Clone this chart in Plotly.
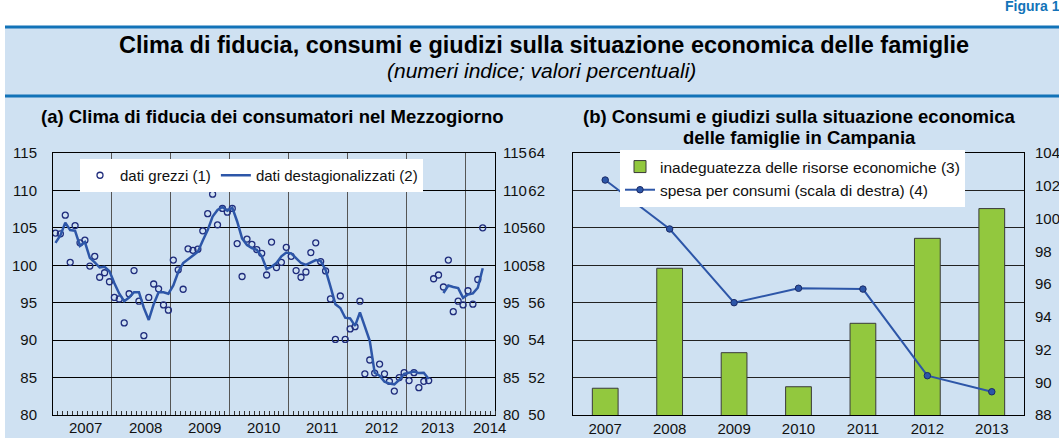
import plotly.graph_objects as go

W, H = 1059, 438

# ---------------- Data: panel (a) monthly, Jan 2007 = month 0 ----------------
raw_old = [104.3, 104.2, 106.7, 100.4, 105.3, 103.0, 103.35, 99.9, 101.2, 98.4, 99.0, 97.8,
           95.7, 95.5, 92.3, 96.2, 99.3, 95.2, 90.6, 95.7, 97.5, 96.85, 94.7, 94.0,
           100.7, 99.4, 96.8, 102.2, 102.0, 102.15, 104.6, 106.9, 109.5, 105.4, 107.6, 107.1,
           107.6, 102.9, 98.5, 103.5, 102.8, 102.1, 101.6, 98.7, 103.1, 99.7, 100.4, 102.4,
           101.2, 99.3, 98.4, 99.1, 101.7, 103.0, 100.5, 99.25, 95.5, 90.1, 95.9, 90.1,
           91.5, 91.8, 95.2, 85.5, 87.35, 85.6, 86.8, 85.5, 84.5, 83.2, 85.0, 85.65,
           84.6, 85.65, 83.65, 84.5, 84.6]
raw_new = [98.2, 98.7, 97.1, 100.7, 93.8, 95.2, 94.7, 96.6, 94.8, 98.1, 105.0]
raw_new_start = 77

sa_old = [103.0, 104.0, 105.7, 104.7, 104.6, 102.6, 103.1, 101.0, 100.4, 99.7, 99.8, 99.2,
          97.6, 96.2, 95.2, 95.7, 96.4, 96.4, 94.3, 92.7, 94.8, 96.4, 96.4, 96.2,
          97.3, 99.1, 100.3, 100.8, 101.3, 101.8, 103.3, 104.7, 106.5, 107.4, 107.8, 107.3,
          107.7, 105.85, 103.6, 102.7, 102.3, 102.06, 101.2, 99.5, 99.8, 100.3, 101.2, 101.7,
          101.6, 100.95, 100.3, 100.05, 100.4, 100.7, 100.6, 99.4, 97.15, 94.8, 94.3, 93.0,
          92.9, 91.9, 93.7, 91.8, 89.9, 85.65, 85.25, 84.45, 84.2, 84.1, 84.7, 85.5,
          85.6, 85.8, 85.6, 85.65, 84.8]
sa_new = [96.3, 97.3, 97.1, 96.95, 95.65, 96.1, 96.25, 97.0, 99.6]
sa_new_start = 79

n_months = 90  # Jan 2007 - Jun 2014
year_labels = ["2007", "2008", "2009", "2010", "2011", "2012", "2013", "2014"]
year_label_pos = [6.2, 18.3, 30.4, 42.4, 54.3, 66.3, 77.7, 88.3]

# ---------------- Data: panel (b) annual ----------------
years_b = ["2007", "2008", "2009", "2010", "2011", "2012", "2013"]
inadeguatezza = [51.43, 57.84, 53.33, 51.51, 54.9, 59.44, 61.03]
spesa = [102.35, 99.36, 94.86, 95.74, 95.69, 90.4, 89.42]

FONT = "Liberation Sans, Arial, sans-serif"
BG = "#cfe1f2"
BLUE_RULE = "#1273b8"
LINE_BLUE = "#2d56a8"
NAVY = "#1f2c7c"
GREEN = "#92c83e"


def px_x(p):
    return p / W


def px_y(p):
    return 1 - p / H


fig = go.Figure()

# panel (a)
fig.add_trace(go.Scatter(
    x=list(range(len(raw_old))), y=raw_old, mode="markers", name="dati grezzi (1)",
    marker=dict(symbol="circle-open", size=6, color=NAVY, line=dict(width=1.3, color=NAVY)),
    xaxis="x", yaxis="y", legend="legend"))
fig.add_trace(go.Scatter(
    x=list(range(raw_new_start, raw_new_start + len(raw_new))), y=raw_new, mode="markers",
    showlegend=False,
    marker=dict(symbol="circle-open", size=6, color=NAVY, line=dict(width=1.3, color=NAVY)),
    xaxis="x", yaxis="y2"))
fig.add_trace(go.Scatter(
    x=list(range(len(sa_old))), y=sa_old, mode="lines", name="dati destagionalizzati (2)",
    line=dict(color=LINE_BLUE, width=2.5), xaxis="x", yaxis="y", legend="legend"))
fig.add_trace(go.Scatter(
    x=list(range(sa_new_start, sa_new_start + len(sa_new))), y=sa_new, mode="lines",
    showlegend=False, line=dict(color=LINE_BLUE, width=2.5), xaxis="x", yaxis="y2"))

# panel (b)
fig.add_trace(go.Bar(
    x=years_b, y=inadeguatezza, name="inadeguatezza delle risorse economiche (3)",
    marker=dict(color=GREEN, line=dict(color="#3a3a3a", width=1)), width=0.4,
    xaxis="x2", yaxis="y3", legend="legend2"))
fig.add_trace(go.Scatter(
    x=years_b, y=spesa, mode="lines+markers", name="spesa per consumi (scala di destra) (4)",
    line=dict(color=LINE_BLUE, width=2),
    marker=dict(size=6.5, color=LINE_BLUE, line=dict(color="#1a2a66", width=1)),
    xaxis="x2", yaxis="y4", legend="legend2"))

ydom = [px_y(415), px_y(153)]
tickfont = dict(family=FONT, size=15, color="#111")

fig.update_layout(
    width=W, height=H, autosize=False,
    margin=dict(l=0, r=0, t=0, b=0, pad=0, autoexpand=False),
    paper_bgcolor="white", plot_bgcolor="white",
    font=dict(family=FONT, size=15, color="#111"),
    xaxis=dict(domain=[px_x(53), px_x(495)], range=[-0.5, n_months - 0.5],
               tickmode="linear", tick0=-0.5, dtick=12, showgrid=True,
               gridcolor="#555", gridwidth=1.2, showticklabels=False, ticks="",
               showline=True, linecolor="#000", linewidth=1, mirror=True, zeroline=False,
               minor=dict(tickmode="linear", tick0=-0.5, dtick=1, ticks="inside",
                          ticklen=4, tickcolor="#333", tickwidth=1, showgrid=False),
               anchor="y", automargin=False),
    yaxis=dict(domain=ydom, range=[80, 115], tickmode="linear", tick0=80, dtick=5,
               showgrid=True, gridcolor="#000", gridwidth=1, showline=True,
               linecolor="#000", mirror=True, zeroline=False, ticks="",
               ticklabelstandoff=12, tickfont=tickfont, anchor="x", automargin=False),
    yaxis2=dict(overlaying="y", side="right", anchor="x", range=[80, 115],
                tickmode="linear", tick0=80, dtick=5, showgrid=False, zeroline=False,
                ticks="", ticklabelstandoff=7, tickfont=tickfont, automargin=False),
    xaxis2=dict(domain=[px_x(573), px_x(1024)], type="category", anchor="y3",
                showline=True, linecolor="#000", mirror=True, ticks="", showgrid=False,
                tickfont=tickfont, automargin=False),
    yaxis3=dict(domain=ydom, range=[50, 64], tickmode="linear", tick0=50, dtick=2,
                anchor="x2", showgrid=True, gridcolor="#222", gridwidth=1,
                showline=True, linecolor="#000", mirror=True, zeroline=False, ticks="",
                ticklabelstandoff=24, tickfont=tickfont, automargin=False),
    yaxis4=dict(overlaying="y3", side="right", anchor="x2", range=[88, 104],
                tickmode="linear", tick0=88, dtick=2, showgrid=False, zeroline=False,
                ticks="", ticklabelstandoff=10, tickfont=tickfont, automargin=False),
    legend=dict(orientation="h", x=px_x(80), y=px_y(159), xanchor="left", yanchor="top",
                bgcolor="white", borderwidth=0, font=dict(family=FONT, size=15),
                itemwidth=30, traceorder="normal"),
    legend2=dict(orientation="v", x=px_x(620), y=px_y(150), xanchor="left", yanchor="top",
                 bgcolor="white", borderwidth=0, font=dict(family=FONT, size=15.5),
                 itemwidth=30, tracegroupgap=0),
    shapes=[
        dict(type="rect", xref="paper", yref="paper", x0=px_x(5), x1=1, y0=0, y1=px_y(27),
             fillcolor=BG, line=dict(width=0), layer="below"),
        dict(type="line", xref="paper", yref="paper", x0=px_x(5), x1=1, y0=px_y(27),
             y1=px_y(27), line=dict(color=BLUE_RULE, width=3)),
        dict(type="line", xref="paper", yref="paper", x0=px_x(5), x1=1, y0=px_y(96),
             y1=px_y(96), line=dict(color=BLUE_RULE, width=3)),
    ],
)

ann = [
    dict(text="<b>Figura 1.</b>", x=px_x(1003), y=px_y(6), xanchor="left", yanchor="middle",
         font=dict(family=FONT, size=14, color=BLUE_RULE)),
    dict(text="<b>Clima di fiducia, consumi e giudizi sulla situazione economica delle famiglie</b>",
         x=px_x(544), y=px_y(45), xanchor="center", yanchor="middle",
         font=dict(family=FONT, size=23.5, color="#000")),
    dict(text="<i>(numeri indice; valori percentuali)</i>",
         x=px_x(541), y=px_y(70), xanchor="center", yanchor="middle",
         font=dict(family=FONT, size=21, color="#000")),
    dict(text="<b>(a) Clima di fiducia dei consumatori nel Mezzogiorno</b>",
         x=px_x(272), y=px_y(117), xanchor="center", yanchor="middle",
         font=dict(family=FONT, size=18.5, color="#000")),
    dict(text="<b>(b) Consumi e giudizi sulla situazione economica</b>",
         x=px_x(799), y=px_y(116), xanchor="center", yanchor="middle",
         font=dict(family=FONT, size=18.5, color="#000")),
    dict(text="<b>delle famiglie in Campania</b>",
         x=px_x(799), y=px_y(137), xanchor="center", yanchor="middle",
         font=dict(family=FONT, size=18.5, color="#000")),
]
for lab, pos in zip(year_labels, year_label_pos):
    ann.append(dict(text=lab, x=pos, xref="x", y=px_y(427), yref="paper",
                    xanchor="center", yanchor="middle", showarrow=False,
                    font=dict(family=FONT, size=15, color="#111")))
for a in ann:
    a.setdefault("xref", "paper")
    a.setdefault("yref", "paper")
    a["showarrow"] = False
fig.update_layout(annotations=ann)

fig.write_html("out.html", config={"displayModeBar": False},
               post_script="document.body.style.margin='0';document.body.style.overflow='hidden';")
